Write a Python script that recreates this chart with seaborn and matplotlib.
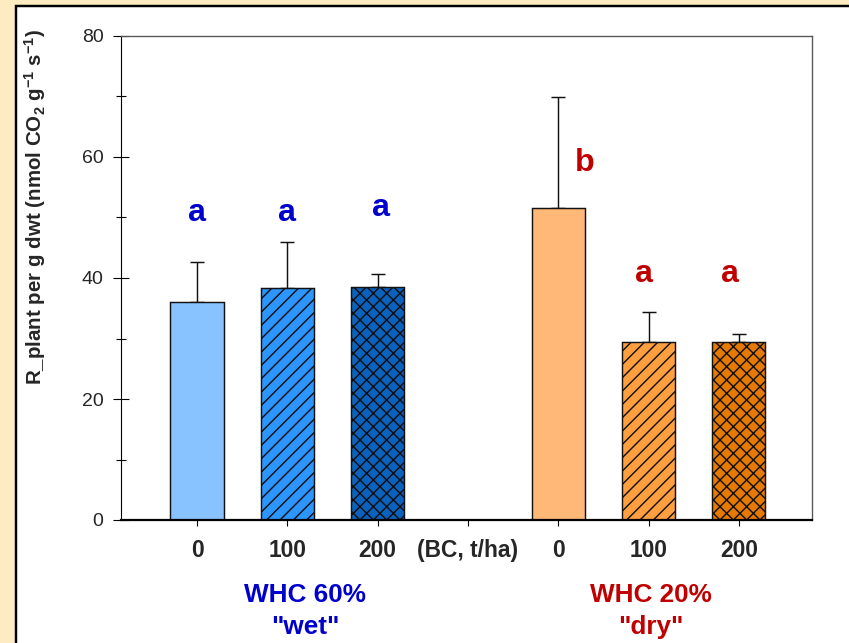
import numpy as np
import pandas as pd
import matplotlib
matplotlib.use("Agg")
import matplotlib.pyplot as plt
import matplotlib.patches as mpatches
import seaborn as sns

# ---- data ----
categories = ["wet_0", "wet_100", "wet_200", "BC", "dry_0", "dry_100", "dry_200"]
tick_labels = ["0", "100", "200", "(BC, t/ha)", "0", "100", "200"]
bar_cats = ["wet_0", "wet_100", "wet_200", "dry_0", "dry_100", "dry_200"]
values = [36.0, 38.4, 38.5, 51.6, 29.4, 29.4]
errors = [6.6, 7.5, 2.1, 18.3, 4.9, 1.4]
bar_colors = ["#88C2FF", "#2D95FF", "#0A62BE", "#FFB878", "#FF9F40", "#E67A00"]
bar_hatches = ["", "//", "xx", "", "//", "xx"]
letters = ["a", "a", "a", "b", "a", "a"]
letter_x = [0.0, 1.0, 2.04, 4.29, 4.95, 5.9]
letter_y = [49.5, 49.5, 50.2, 57.7, 39.4, 39.4]
letter_colors = ["#0000CC"] * 3 + ["#C00000"] * 3
group_labels = ['WHC 60%\n"wet"', 'WHC 20%\n"dry"']
group_colors = ["#0000CC", "#C00000"]

W, H, DPI = 849, 643, 80
sns.set_style("white")
plt.rcParams["font.family"] = ["Liberation Sans", "DejaVu Sans"]
plt.rcParams["mathtext.fontset"] = "custom"
plt.rcParams["mathtext.rm"] = "Liberation Sans:bold"
plt.rcParams["mathtext.bf"] = "Liberation Sans:bold"
plt.rcParams["mathtext.default"] = "bf"
plt.rcParams["hatch.linewidth"] = 1.3

fig = plt.figure(figsize=(W / DPI, H / DPI), dpi=DPI, facecolor="#FEEBC2")
# white panel with black frame
fig.patches.append(mpatches.Rectangle((16 / W, -0.02), 1.0, (H - 6) / H + 0.02,
                                      transform=fig.transFigure, facecolor="white",
                                      edgecolor="black", linewidth=2.2, zorder=-5))

ax = fig.add_axes([121 / W, (H - 520) / H, 691 / W, 484 / H])
ax.set_facecolor("white")

df = pd.DataFrame({"cat": bar_cats, "val": values})
pal = dict(zip(bar_cats, bar_colors))
sns.barplot(data=df, x="cat", y="val", hue="cat", palette=pal, order=categories,
            hue_order=bar_cats, width=0.59, saturation=1, errorbar=None,
            legend=False, ax=ax, edgecolor="#111111", linewidth=1.3, zorder=2)

for p in ax.patches:
    cx = p.get_x() + p.get_width() / 2
    idx = int(round(cx))
    cat = categories[idx]
    if cat in bar_cats:
        j = bar_cats.index(cat)
        p.set_hatch(bar_hatches[j])
        p.set_edgecolor("#111111")

xpos = [categories.index(c) for c in bar_cats]
ax.errorbar(xpos, values, yerr=[np.zeros(len(values)), errors], fmt="none",
            ecolor="#111111", elinewidth=1.3, capsize=6.5, capthick=1.3, zorder=1)

for x, y, t, c in zip(letter_x, letter_y, letters, letter_colors):
    ax.text(x, y, t, color=c, fontsize=29, fontweight="bold", ha="center", va="baseline")

ax.set_xlim(-0.842, 6.81)
ax.set_ylim(0, 80)
ax.set_yticks([0, 20, 40, 60, 80])
ax.set_yticks([10, 30, 50, 70], minor=True)
ax.set_xticks(range(len(categories)))
ax.set_xticklabels(tick_labels, fontsize=20.5, fontweight="bold")
ax.tick_params(axis="y", which="major", direction="inout", length=14.4, width=1,
               labelsize=17.5, pad=8.5, left=True, color="black")
ax.tick_params(axis="y", which="minor", direction="inout", length=9, width=1, left=True,
               color="black")
ax.tick_params(axis="x", which="major", direction="out", length=5.5, width=1,
               bottom=True, pad=12, color="black")

for s in ["top", "right"]:
    ax.spines[s].set_color("#555555")
    ax.spines[s].set_linewidth(1.2)
ax.spines["left"].set_color("black")
ax.spines["left"].set_linewidth(1.0)
ax.spines["bottom"].set_color("black")
ax.spines["bottom"].set_linewidth(2.0)

ax.set_xlabel("")
ax.set_ylabel(r"R_plant per g dwt (nmol CO$_2$ g$^{-1}$ s$^{-1}$)", fontsize=18.5,
              fontweight="bold")
ax.yaxis.set_label_coords((48 - 121) / 691, (520 - 207) / 484)

for (gx, lab, col) in zip([305, 651], group_labels, group_colors):
    fig.text(gx / W, 1 - 611 / H, lab, color=col, fontsize=23.5, fontweight="bold",
             ha="center", va="center", linespacing=1.38)

fig.savefig("out.png", dpi=DPI, facecolor=fig.get_facecolor())
